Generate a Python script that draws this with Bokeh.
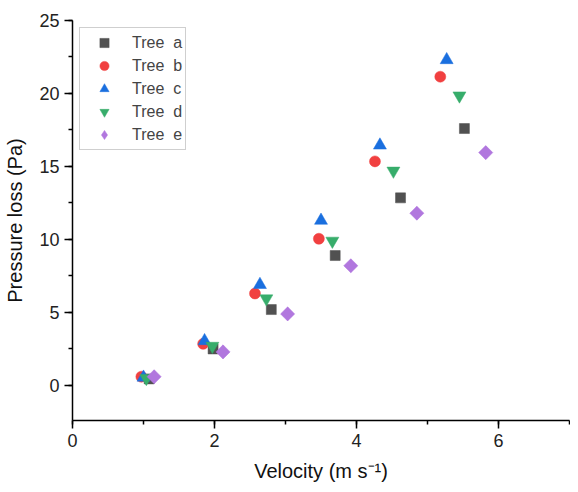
import math
from bokeh.plotting import figure
from bokeh.models import Range1d, SingleIntervalTicker, Legend, LegendItem
from bokeh.embed import file_html
from bokeh.resources import INLINE

# Data
xa = [1.08, 1.98, 2.80, 3.70, 4.62, 5.52]
ya = [0.45, 2.50, 5.20, 8.90, 12.85, 17.60]
xb = [0.97, 1.84, 2.57, 3.47, 4.26, 5.18]
yb = [0.60, 2.85, 6.30, 10.05, 15.35, 21.15]
xc = [1.00, 1.86, 2.64, 3.50, 4.33, 5.27]
yc = [0.55, 3.05, 6.90, 11.30, 16.45, 22.30]
xd = [1.04, 1.97, 2.73, 3.66, 4.52, 5.45]
yd = [0.50, 2.70, 5.95, 9.90, 14.70, 19.85]
xe = [1.15, 2.12, 3.03, 3.92, 4.85, 5.82]
ye = [0.60, 2.30, 4.90, 8.20, 11.80, 15.95]

labels = ["Tree  a", "Tree  b", "Tree  c", "Tree  d", "Tree  e"]
colors = ["#515151", "#F14040", "#1A6FDF", "#37AD6B", "#B177DE"]
markers = ["square", "circle", "triangle", "inverted_triangle", "diamond"]
sizes = [10, 11, 13, 13, 13]

FONT = "Liberation Sans"

p = figure(width=570, height=484, output_backend="svg", toolbar_location=None,
           x_range=Range1d(0, 7), y_range=Range1d(-2.4, 25),
           min_border_left=72, min_border_top=20, min_border_bottom=60,
           min_border_right=1)
p.outline_line_color = None
p.xgrid.visible = False
p.ygrid.visible = False
p.background_fill_color = "white"
p.border_fill_color = "white"

series = [(xa, ya), (xb, yb), (xc, yc), (xd, yd), (xe, ye)]
items = []
for (xs, ys), lab, col, mk, sz in zip(series, labels, colors, markers, sizes):
    r = p.scatter(xs, ys, marker=mk, size=sz, fill_color=col,
                  line_color=col, line_width=0.5)
    if mk == "diamond":
        # square diamond (equal width/height) drawn over the narrower marker
        p.scatter(xs, ys, marker="square", size=10, angle=math.pi / 4,
                  fill_color=col, line_color=col, line_width=0.5)
    items.append(LegendItem(label=lab, renderers=[r]))

p.xaxis.ticker = SingleIntervalTicker(interval=2, num_minor_ticks=2)
p.yaxis.ticker = SingleIntervalTicker(interval=5, num_minor_ticks=2)
for ax in (p.xaxis[0], p.yaxis[0]):
    ax.axis_line_width = 1.5
    ax.axis_line_color = "black"
    ax.major_tick_line_color = "black"
    ax.major_tick_line_width = 1.5
    ax.minor_tick_line_color = "black"
    ax.minor_tick_line_width = 1.5
    ax.major_tick_out = 8
    ax.major_tick_in = 0
    ax.minor_tick_out = 4
    ax.minor_tick_in = 0
    ax.major_label_text_font = FONT
    ax.major_label_text_font_size = "18px"
    ax.major_label_text_color = "#222222"
    ax.axis_label_text_font = FONT
    ax.axis_label_text_font_size = "20px"
    ax.axis_label_text_font_style = "normal"
    ax.axis_label_text_color = "#111111"
    ax.major_label_standoff = 5
    ax.axis_label_standoff = 10

p.xaxis.axis_label = "Velocity (m s⁻¹)"
p.yaxis.axis_label = "Pressure loss (Pa)"

legend = Legend(items=items, location="top_left")
legend.margin = 7
legend.padding = 3
legend.spacing = 0
legend.label_height = 23
legend.glyph_height = 23
legend.glyph_width = 42
legend.label_standoff = 7
legend.label_text_font = FONT
legend.label_text_font_size = "16px"
legend.border_line_color = "#a0a0a0"
legend.border_line_width = 1
legend.background_fill_alpha = 1
p.add_layout(legend, "center")

open("out.html", "w").write(file_html(p, INLINE))
